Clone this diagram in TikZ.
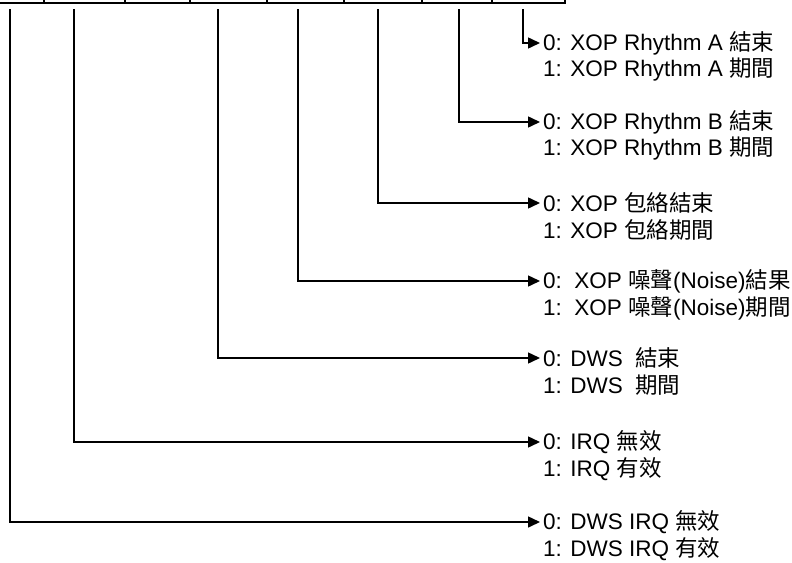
\documentclass[tikz,border=0pt]{standalone}
\usepackage{fontspec}
\setmainfont{Liberation Sans}
\newfontfamily\cjk{Noto Sans CJK TC}
\usetikzlibrary{arrows.meta}
\begin{document}
\begin{tikzpicture}[x=1pt,y=-1pt,
  cellline/.style={line width=2pt},
  conn/.style={line width=1.5pt,-{Triangle[length=12pt,width=11pt]}},
  lbl/.style={anchor=west,inner sep=3pt,font=\fontsize{22.5}{26}\selectfont}]
\useasboundingbox (0,0) rectangle (792,562);
\clip (0,0) rectangle (792,562);
% register cells (bottom edge and dividers)
\draw[cellline] (-2,3) -- (565,3) -- (565,-2);
\foreach \x in {44,125,190,267,344,422,492} \draw[cellline] (\x,-2) -- (\x,3);
% bit tap points
\coordinate (b7) at (10,9);
\coordinate (b6) at (74,9);
\coordinate (b4) at (218,9);
\coordinate (b3) at (298,9);
\coordinate (b2) at (378,9);
\coordinate (b1) at (459,9);
\coordinate (b0) at (523,9);
% labels
\node[lbl] (a0) at (540,43) {0: XOP Rhythm A {\cjk 結束}};
\node[lbl] (a1) at (540,70) {1: XOP Rhythm A {\cjk 期間}};
\node[lbl] (r0) at (540,122) {0: XOP Rhythm B {\cjk 結束}};
\node[lbl] (r1) at (540,149) {1: XOP Rhythm B {\cjk 期間}};
\node[lbl] (e0) at (540,203) {0: XOP {\cjk 包絡結束}};
\node[lbl] (e1) at (540,230) {1: XOP {\cjk 包絡期間}};
\node[lbl] (n0) at (540,281) {0:\ \ XOP {\cjk 噪聲}(Noise){\cjk 結果}};
\node[lbl] (n1) at (540,308) {1:\ \ XOP {\cjk 噪聲}(Noise){\cjk 期間}};
\node[lbl] (d0) at (540,358) {0: DWS\ \ {\cjk 結束}};
\node[lbl] (d1) at (540,385) {1: DWS\ \ {\cjk 期間}};
\node[lbl] (i0) at (540,442) {0: IRQ {\cjk 無效}};
\node[lbl] (i1) at (540,469) {1: IRQ {\cjk 有效}};
\node[lbl] (w0) at (540,522) {0: DWS IRQ {\cjk 無效}};
\node[lbl] (w1) at (540,549) {1: DWS IRQ {\cjk 有效}};
% connectors
\draw[conn] (b0) |- (a0.west);
\draw[conn] (b1) |- (r0.west);
\draw[conn] (b2) |- (e0.west);
\draw[conn] (b3) |- (n0.west);
\draw[conn] (b4) |- (d0.west);
\draw[conn] (b6) |- (i0.west);
\draw[conn] (b7) |- (w0.west);
\end{tikzpicture}
\end{document}
